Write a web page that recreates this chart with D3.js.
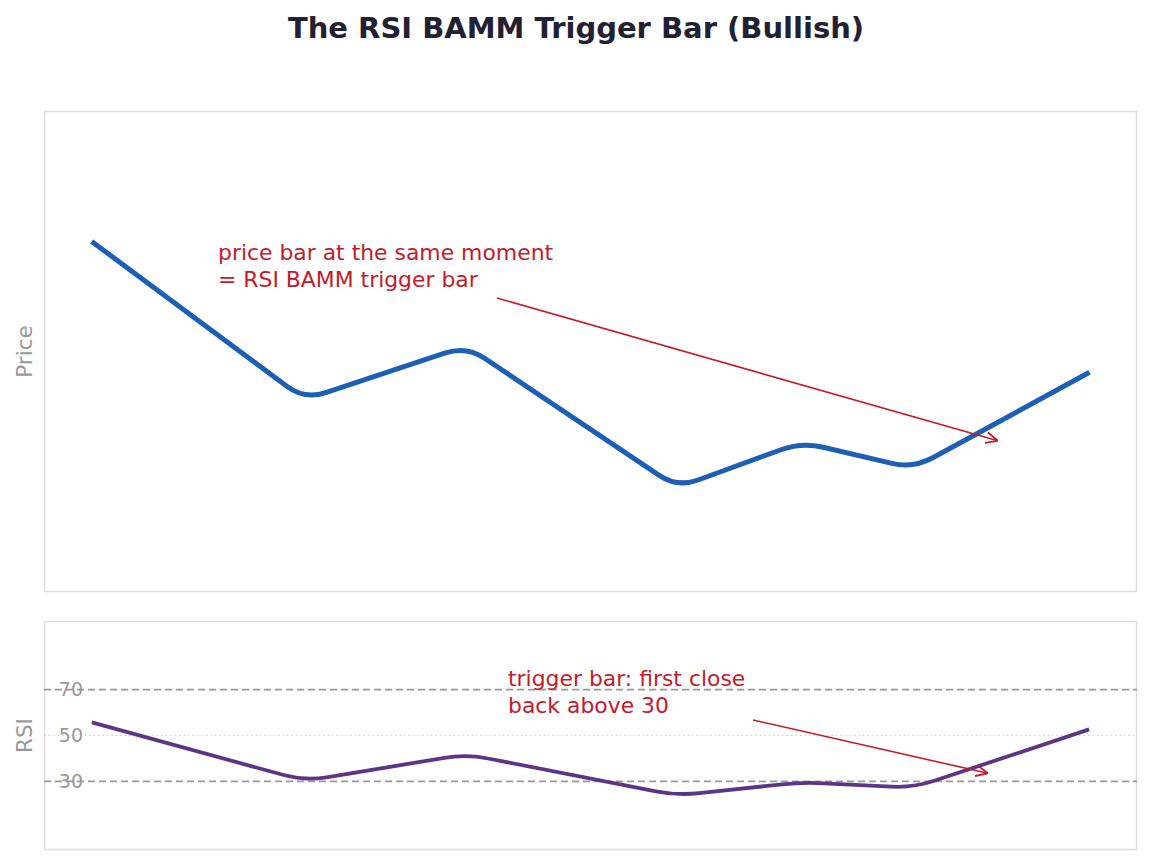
<!DOCTYPE html>
<html>
<head>
<meta charset="UTF-8">
<title>RSI BAMM Trigger Bar</title>
<script src="https://cdn.jsdelivr.net/npm/d3@7"></script>
<style type="text/css">
	body{
		margin: 0;
		background: #ffffff;
		font-family: "DejaVu Sans", sans-serif;
	}
</style>
</head>
<body>
<script>
// bar positions of the swing points and their values
var bars = [0, 8.5, 15, 23.5, 28.5, 33, 40];
var prices = [110.4, 99.0, 102.9, 92.6, 95.9, 94.0, 100.9];
var rsi = [55.5, 30.2, 41.8, 23.8, 29.6, 27.2, 52.4];
var rsiLevels = [70, 50, 30];
var rsiTicks = ["70", "50", "30"];

var width = 1152, height = 865;
var left = 44, right = 1137;
var priceTop = 111, priceBottom = 592;
var rsiTop = 621, rsiBottom = 850;
var red = "#c41a2b";

var svg = d3.select("body").append("svg")
	.attr("width", width)
	.attr("height", height);

// rounded corner curve: straight segments, corners rounded off
function roundedCurve(context){
	var pts = [];
	return {
		lineStart: function(){ pts = []; },
		lineEnd: function(){
			var r = 22;
			context.moveTo(pts[0][0], pts[0][1]);
			for(var i = 1; i < pts.length - 1; i++){
				var p0 = pts[i-1], p1 = pts[i], p2 = pts[i+1];
				var d1 = Math.hypot(p1[0]-p0[0], p1[1]-p0[1]);
				var d2 = Math.hypot(p2[0]-p1[0], p2[1]-p1[1]);
				var r1 = Math.min(r, d1/2), r2 = Math.min(r, d2/2);
				var a = [p1[0] - (p1[0]-p0[0])*r1/d1, p1[1] - (p1[1]-p0[1])*r1/d1];
				var b = [p1[0] + (p2[0]-p1[0])*r2/d2, p1[1] + (p2[1]-p1[1])*r2/d2];
				context.lineTo(a[0], a[1]);
				context.quadraticCurveTo(p1[0], p1[1], b[0], b[1]);
			}
			var last = pts[pts.length-1];
			context.lineTo(last[0], last[1]);
		},
		areaStart: function(){}, areaEnd: function(){},
		point: function(x, y){ pts.push([+x, +y]); }
	};
}

// x with 5% padding like the original
var span = bars[bars.length-1] - bars[0];
var x = d3.scaleLinear()
	.domain([bars[0] - span*0.05, bars[bars.length-1] + span*0.05])
	.range([left, right]);
var yPrice = d3.scaleLinear().domain([85, 120]).range([priceBottom, priceTop]);
var yRsi = d3.scaleLinear().domain([0, 100]).range([rsiBottom, rsiTop]);

// title
svg.append("text")
	.attr("x", width/2)
	.attr("y", 38)
	.attr("text-anchor", "middle")
	.attr("font-size", "29px")
	.attr("font-weight", "bold")
	.attr("fill", "#222033")
	.text("The RSI BAMM Trigger Bar (Bullish)");

// panel frames
[[priceTop, priceBottom], [rsiTop, rsiBottom]].forEach(function(p){
	svg.append("rect")
		.attr("x", left + 0.5)
		.attr("y", p[0] + 0.5)
		.attr("width", right - left - 1)
		.attr("height", p[1] - p[0] - 1)
		.attr("fill", "none")
		.attr("stroke", "#dddddd")
		.attr("stroke-width", 1.5);
});

// axis labels
svg.append("text")
	.attr("transform", "translate(32," + (priceTop + priceBottom)/2 + ") rotate(-90)")
	.attr("text-anchor", "middle")
	.attr("font-size", "21.5px")
	.attr("fill", "#999999")
	.text("Price");
svg.append("text")
	.attr("transform", "translate(32," + (rsiTop + rsiBottom)/2 + ") rotate(-90)")
	.attr("text-anchor", "middle")
	.attr("font-size", "21.5px")
	.attr("fill", "#999999")
	.text("RSI");

// RSI reference lines
svg.selectAll(".level")
	.data(rsiLevels)
	.enter()
		.append("line")
		.attr("class", "level")
		.attr("x1", left)
		.attr("x2", right)
		.attr("y1", function(d){ return yRsi(d); })
		.attr("y2", function(d){ return yRsi(d); })
		.attr("stroke", function(d){ return d == 50 ? "#cccccc" : "#999999"; })
		.attr("stroke-width", function(d){ return d == 50 ? 1.2 : 1.8; })
		.attr("stroke-dasharray", function(d){ return d == 50 ? "1.5,3" : "7,4"; });

svg.selectAll(".tick")
	.data(rsiLevels)
	.enter()
		.append("text")
		.attr("class", "tick")
		.attr("x", 83)
		.attr("y", function(d){ return yRsi(d) + 6.5; })
		.attr("text-anchor", "end")
		.attr("font-size", "19px")
		.attr("fill", "#999999")
		.text(function(d, i){ return rsiTicks[i]; });

// lines
var priceLine = d3.line()
	.x(function(d, i){ return x(bars[i]); })
	.y(function(d){ return yPrice(d); })
	.curve(roundedCurve);
var rsiLine = d3.line()
	.x(function(d, i){ return x(bars[i]); })
	.y(function(d){ return yRsi(d); })
	.curve(roundedCurve);

svg.append("path")
	.attr("d", priceLine(prices))
	.attr("fill", "none")
	.attr("stroke", "#1d5fb4")
	.attr("stroke-width", 5)
	.attr("stroke-linecap", "square");
svg.append("path")
	.attr("d", rsiLine(rsi))
	.attr("fill", "none")
	.attr("stroke", "#5e3586")
	.attr("stroke-width", 3.8)
	.attr("stroke-linecap", "square");

// annotations
svg.append("defs").append("marker")
	.attr("id", "arrow")
	.attr("viewBox", "0 0 12 12")
	.attr("refX", 12)
	.attr("refY", 6)
	.attr("markerWidth", 12)
	.attr("markerHeight", 12)
	.attr("markerUnits", "userSpaceOnUse")
	.attr("orient", "auto")
	.append("path")
		.attr("d", "M0,0.5 L12,6 L0,11.5")
		.attr("fill", "none")
		.attr("stroke", red)
		.attr("stroke-width", 1.8);

function note(lines, tx, ty, from, toBar, toY){
	var t = svg.append("text")
		.attr("x", tx)
		.attr("y", ty)
		.attr("font-size", "21.9px")
		.attr("fill", red);
	lines.forEach(function(s, i){
		t.append("tspan").attr("x", tx).attr("dy", i == 0 ? 0 : 26.5).text(s);
	});
	svg.append("line")
		.attr("x1", from[0]).attr("y1", from[1])
		.attr("x2", x(toBar)).attr("y2", toY)
		.attr("stroke", red)
		.attr("stroke-width", 1.6)
		.attr("marker-end", "url(#arrow)");
}
note(["price bar at the same moment", "= RSI BAMM trigger bar"], 218, 260,
	[497, 298], 36.4, yPrice(96.0));
note(["trigger bar: first close", "back above 30"], 508, 686,
	[753, 720], 36.0, yRsi(33.5));
</script>
</body>
</html>
